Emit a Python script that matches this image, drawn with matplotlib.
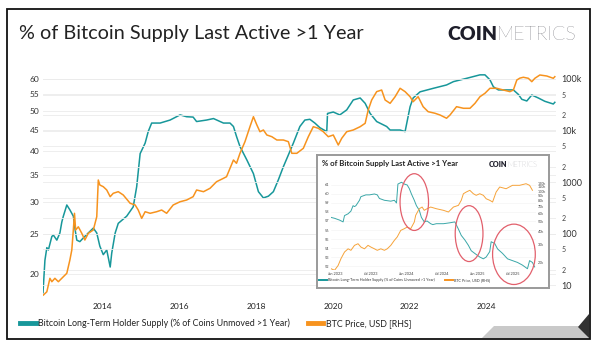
import matplotlib
matplotlib.use("Agg")
import matplotlib.pyplot as plt
from matplotlib.lines import Line2D
from matplotlib.patches import Ellipse, Polygon, Rectangle
from matplotlib.ticker import FixedLocator, FixedFormatter, NullLocator, NullFormatter

plt.rcParams["font.family"] = ["Lato", "DejaVu Sans"]

TEAL = "#17979a"
ORANGE = "#f7931e"
INK = "#222222"

# ---------------- main chart data ----------------
lth_years = [2012.45, 2012.50, 2012.55, 2012.59, 2012.68, 2012.72, 2012.81, 2012.89, 2012.94, 2012.98,
             2013.07, 2013.15, 2013.24, 2013.28, 2013.33, 2013.41, 2013.50, 2013.63, 2013.76, 2013.85,
             2013.93, 2014.02, 2014.11, 2014.20, 2014.24, 2014.33, 2014.41, 2014.63, 2014.80, 2014.89,
             2014.98, 2015.11, 2015.19, 2015.28, 2015.50, 2015.76, 2016.02, 2016.19, 2016.36, 2016.45,
             2016.71, 2016.89, 2017.15, 2017.32, 2017.41, 2017.49, 2017.58, 2017.76, 2017.93, 2018.06,
             2018.19, 2018.32, 2018.45, 2018.58, 2018.71, 2018.84, 2018.97, 2019.14, 2019.27, 2019.40,
             2019.53, 2019.66, 2019.84, 2019.86, 2020.01, 2020.18, 2020.36, 2020.53, 2020.71, 2020.84,
             2020.97, 2021.14, 2021.40, 2021.49, 2021.75, 2021.88, 2022.01, 2022.09, 2022.27, 2022.61,
             2022.96, 2023.14, 2023.48, 2023.83, 2023.96, 2024.09, 2024.18, 2024.31, 2024.70, 2024.83,
             2024.92, 2025.05, 2025.18, 2025.35, 2025.52, 2025.74, 2025.78]
lth_pct = [18.0, 21.6, 23.2, 22.9, 24.7, 24.9, 24.2, 25.2, 26.8, 27.7,
           29.5, 28.7, 27.7, 25.9, 24.2, 24.0, 24.5, 25.2, 25.9, 25.2,
           23.4, 22.3, 22.9, 20.8, 22.5, 25.2, 26.6, 27.7, 29.2, 32.7,
           39.4, 41.8, 44.6, 46.8, 46.8, 47.6, 49.0, 48.5, 48.4, 47.2,
           47.6, 48.0, 46.8, 46.8, 45.9, 43.4, 41.0, 38.0, 35.2, 31.8,
           30.7, 31.0, 31.8, 34.0, 36.6, 39.1, 41.8, 45.9, 47.6, 47.8,
           46.8, 45.6, 44.6, 49.4, 49.8, 49.0, 50.4, 53.3, 53.9, 52.3,
           49.4, 47.2, 45.9, 45.0, 45.0, 44.6, 51.3, 53.9, 55.8, 56.9,
           58.0, 59.1, 60.2, 61.4, 61.4, 59.7, 57.4, 56.4, 56.4, 55.0,
           53.5, 53.0, 54.8, 53.9, 52.9, 52.1, 52.6]

price_years = [2012.46, 2012.55, 2012.63, 2012.68, 2012.76, 2012.85, 2012.98, 2013.07, 2013.15, 2013.20,
               2013.24, 2013.27, 2013.30, 2013.37, 2013.46, 2013.54, 2013.63, 2013.76, 2013.85, 2013.89,
               2013.93, 2014.02, 2014.11, 2014.20, 2014.28, 2014.41, 2014.54, 2014.72, 2014.85, 2014.93,
               2015.02, 2015.11, 2015.24, 2015.41, 2015.54, 2015.67, 2015.84, 2016.02, 2016.19, 2016.36,
               2016.45, 2016.63, 2016.80, 2016.97, 2017.15, 2017.23, 2017.41, 2017.49, 2017.58, 2017.71,
               2017.84, 2017.93, 2018.02, 2018.10, 2018.19, 2018.28, 2018.41, 2018.54, 2018.71, 2018.84,
               2018.93, 2019.06, 2019.23, 2019.36, 2019.49, 2019.62, 2019.75, 2019.88, 2020.01, 2020.14,
               2020.23, 2020.36, 2020.53, 2020.71, 2020.84, 2020.92, 2021.01, 2021.14, 2021.27, 2021.36,
               2021.49, 2021.62, 2021.75, 2021.88, 2022.01, 2022.09, 2022.22, 2022.35, 2022.48, 2022.66,
               2022.79, 2022.96, 2023.05, 2023.22, 2023.40, 2023.57, 2023.70, 2023.83, 2023.96, 2024.09,
               2024.27, 2024.44, 2024.61, 2024.70, 2024.79, 2024.87, 2024.96, 2025.09, 2025.18, 2025.26,
               2025.39, 2025.57, 2025.74, 2025.78]
price_usd = [6.4, 7.4, 13.5, 11.6, 13.5, 11.6, 14.5, 16.9, 30.6, 47.8,
             117, 247, 117, 135, 101, 74.8, 101, 117, 212, 1094,
             875, 811, 700, 519, 604, 649, 560, 386, 358, 286,
             197, 265, 247, 265, 286, 247, 358, 414, 447, 519,
             700, 649, 755, 1014, 1180, 1268, 2673, 2307, 3607, 6070,
             11860, 18530, 12790, 9480, 10230, 8180, 7580, 6540, 6540, 6070,
             3607, 3607, 4510, 7580, 11860, 11040, 9480, 7580, 8180, 5230,
             7060, 9480, 10230, 11860, 13800, 25000, 39100, 56800, 61100, 39100,
             33700, 45300, 66000, 56800, 45300, 36200, 45300, 29000, 23200, 21600,
             20000, 17300, 20000, 29000, 27000, 27000, 33700, 45300, 52800, 66000,
             66000, 61100, 56800, 61100, 95600, 104000, 108000, 103200, 88700, 103200,
             119600, 114300, 103200, 110900]

year_ticks = [2014, 2016, 2018, 2020, 2022, 2024]
pct_ticks = [20, 25, 30, 35, 40, 45, 50, 55, 60]
price_major = [10, 100, 1000, 10000, 100000]
price_major_labels = ["10", "100", "1000", "10k", "100k"]
price_minor = [20, 50, 200, 500, 2000, 5000, 20000, 50000]
price_minor_labels = ["2", "5", "2", "5", "2", "5", "2", "5"]

# ---------------- inset chart data ----------------
in_lth_years = [2022.95, 2023.00, 2023.07, 2023.12, 2023.14, 2023.19, 2023.23, 2023.26, 2023.28, 2023.30,
                2023.35, 2023.37, 2023.44, 2023.49, 2023.56, 2023.60, 2023.63, 2023.70, 2023.79, 2023.84,
                2023.87, 2023.89, 2023.94, 2023.98, 2024.02, 2024.05, 2024.08, 2024.12, 2024.15, 2024.19,
                2024.22, 2024.26, 2024.30, 2024.35, 2024.38, 2024.43, 2024.53, 2024.62, 2024.69, 2024.74,
                2024.78, 2024.83, 2024.88, 2024.92, 2024.97, 2025.04, 2025.09, 2025.13, 2025.18, 2025.20,
                2025.25, 2025.29, 2025.36, 2025.43, 2025.50, 2025.57, 2025.64, 2025.71, 2025.74, 2025.78,
                2025.81]
in_lth_pct = [57.4, 57.3, 57.1, 56.9, 57.6, 57.8, 58.1, 58.7, 58.6, 58.7,
              59.3, 59.7, 59.9, 59.9, 60.0, 59.9, 59.5, 59.3, 59.2, 59.3,
              59.0, 61.1, 61.3, 61.1, 61.0, 60.6, 60.0, 59.3, 58.7, 58.2,
              57.4, 56.9, 57.0, 56.7, 56.6, 56.7, 56.7, 56.8, 56.9, 56.1,
              55.4, 54.9, 54.3, 53.7, 53.4, 53.0, 52.8, 53.0, 53.6, 54.7,
              54.5, 53.9, 53.4, 52.8, 52.6, 52.4, 52.1, 51.7, 52.6, 52.4,
              51.9]

in_price_years = [2022.95, 2023.00, 2023.05, 2023.09, 2023.14, 2023.19, 2023.23, 2023.28, 2023.33, 2023.37,
                  2023.42, 2023.47, 2023.51, 2023.56, 2023.60, 2023.65, 2023.70, 2023.74, 2023.79, 2023.84,
                  2023.88, 2023.93, 2023.98, 2024.02, 2024.07, 2024.12, 2024.14, 2024.19, 2024.23, 2024.26,
                  2024.30, 2024.35, 2024.43, 2024.53, 2024.60, 2024.67, 2024.74, 2024.78, 2024.81, 2024.85,
                  2024.90, 2024.95, 2024.99, 2025.04, 2025.09, 2025.13, 2025.18, 2025.22, 2025.27, 2025.32,
                  2025.41, 2025.50, 2025.60, 2025.69, 2025.74, 2025.78]
in_price_usd = [17200, 16600, 18500, 21600, 25100, 27000, 26100, 29200, 30300, 28100,
                27000, 29200, 28100, 27000, 26100, 27000, 26100, 27000, 29200, 32700,
                35300, 41000, 42600, 44200, 42600, 49500, 57700, 67000, 69600, 64600,
                67000, 69600, 67000, 64600, 62200, 69600, 72300, 81100, 94100, 97800,
                101700, 94100, 90800, 94100, 90800, 84000, 81100, 78000, 97800, 109600,
                105400, 113900, 113900, 118100, 113900, 101700]

in_pct_ticks = [52, 53, 54, 55, 56, 57, 58, 59, 60, 61]
in_price_ticks = [20000, 30000, 40000, 50000, 60000, 70000, 80000, 90000, 100000, 110000, 120000]
in_price_labels = ["20k", "30k", "40k", "50k", "60k", "70k", "80k", "90k", "100k", "110k", "120k"]
in_date_ticks = [2023.0, 2023.5, 2024.0, 2024.5, 2025.0, 2025.5]
in_date_labels = ["Jan 2023", "Jul 2023", "Jan 2024", "Jul 2024", "Jan 2025", "Jul 2025"]

# highlighted periods on the inset: (centre year, centre %, width in years, height in %)
highlights = [(2024.12, 59.1, 0.40, 6.3),
              (2024.89, 55.6, 0.39, 6.2),
              (2025.52, 53.3, 0.60, 6.7)]

LTH_LABEL = "Bitcoin Long-Term Holder Supply (% of Coins Unmoved >1 Year)"
PRICE_LABEL = "BTC Price, USD [RHS]"
TITLE = "% of Bitcoin Supply Last Active >1 Year"

W, H = 600, 349
fig = plt.figure(figsize=(W / 100, H / 100), dpi=100)


def fx(x):
    return x / W


def fy(y):
    return 1 - y / H


def box(x0, y0, x1, y1):
    return [fx(x0), fy(y1), (x1 - x0) / W, (y1 - y0) / H]


# outer frame
fig.add_artist(Rectangle((fx(7), fy(339)), (590 - 7) / W, (339 - 9) / H,
                         transform=fig.transFigure, fill=False, ec="#111111", lw=1.3))

# title and logo
fig.text(fx(19), fy(38.5), TITLE, fontsize=14.3, color=INK, va="baseline", ha="left")
fig.text(fx(497), fy(39.5), "COIN", fontsize=14, fontweight="heavy", color="#1e1e2a",
         va="baseline", ha="right")
fig.text(fx(497), fy(39.5), "METRICS", fontsize=14, fontweight="light", color="#2e2e38",
         va="baseline", ha="left")

# ---------------- main chart ----------------
ax = fig.add_axes(box(43, 70, 555.6, 298))
ax.set_yscale("log")
ax.set_xlim(2012.45, 2025.80)
ax.set_ylim(17.47, 63.1)
ax.plot(lth_years, lth_pct, color=TEAL, lw=1.1, zorder=3)
ax.set_xticks(year_ticks)
ax.set_xticklabels([str(y) for y in year_ticks])
ax.yaxis.set_major_locator(FixedLocator(pct_ticks))
ax.yaxis.set_major_formatter(FixedFormatter([str(v) for v in pct_ticks]))
ax.yaxis.set_minor_locator(NullLocator())
ax.yaxis.set_minor_formatter(NullFormatter())
ax.tick_params(axis="x", length=0, pad=3.5, labelsize=6, labelcolor=INK)
ax.tick_params(axis="y", length=0, pad=2.5, labelsize=6, labelcolor="#333333")
ax.grid(axis="y", color="#ebebeb", lw=0.6)
ax.set_axisbelow(True)

ax2 = ax.twinx()
ax2.set_yscale("log")
ax2.set_ylim(5.6, 149500)
ax2.plot(price_years, price_usd, color=ORANGE, lw=1.1, zorder=3)
ax2.yaxis.set_major_locator(FixedLocator(price_major))
ax2.yaxis.set_major_formatter(FixedFormatter(price_major_labels))
ax2.yaxis.set_minor_locator(FixedLocator(price_minor))
ax2.yaxis.set_minor_formatter(FixedFormatter(price_minor_labels))
ax2.tick_params(axis="y", which="major", length=0, pad=4, labelsize=6.5, labelcolor="#333333")
ax2.tick_params(axis="y", which="minor", length=0, pad=4, labelsize=5, labelcolor="#444444")
ax2.grid(axis="y", which="both", color="#ebebeb", lw=0.6)
ax2.set_axisbelow(True)

for a in (ax, ax2):
    for s in a.spines.values():
        s.set_visible(False)

fig.legend([Line2D([], [], color=TEAL, lw=3.5), Line2D([], [], color=ORANGE, lw=3.5)],
           [LTH_LABEL, PRICE_LABEL], loc="center left", bbox_to_anchor=(fx(20), fy(323)),
           ncol=2, frameon=False, fontsize=6.4, handlelength=1.75, handletextpad=0.3,
           columnspacing=2.0, borderpad=0, borderaxespad=0, labelcolor=INK)

# ---------------- inset chart ----------------
frame = fig.add_axes(box(317, 155, 549, 288), zorder=5)
frame.set_facecolor("white")
frame.set_xticks([])
frame.set_yticks([])
for s in frame.spines.values():
    s.set_color("#9a9a9a")
    s.set_linewidth(1.4)

fig.text(fx(322), fy(164), TITLE, fontsize=5.6, fontweight="bold", color=INK,
         va="center", ha="left", zorder=8)
fig.text(fx(507), fy(164.5), "COIN", fontsize=5.2, fontweight="heavy", color="#1e1e2a",
         va="center", ha="right", zorder=8)
fig.text(fx(507), fy(164.5), "METRICS", fontsize=5.2, fontweight="light", color="#666670",
         va="center", ha="left", zorder=8)

iax = fig.add_axes(box(331, 181, 536, 270), zorder=6)
iax.set_xlim(2022.95, 2025.83)
iax.set_ylim(51.56, 61.44)
iax.plot(in_lth_years, in_lth_pct, color="#3aa7a8", lw=0.7)
iax.set_xticks(in_date_ticks)
iax.set_xticklabels(in_date_labels)
iax.set_yticks(in_pct_ticks)
iax.set_yticklabels([str(v) for v in in_pct_ticks])
iax.tick_params(axis="both", length=0, labelsize=2.8, labelcolor="#444444", pad=1.5)
iax.grid(axis="y", color="#f2f2f2", lw=0.4)
iax.set_axisbelow(True)
iax.patch.set_alpha(0)

iax2 = iax.twinx()
iax2.set_zorder(7)
iax2.set_yscale("log")
iax2.set_ylim(16700, 125600)
iax2.plot(in_price_years, in_price_usd, color="#f6a33a", lw=0.7)
iax2.yaxis.set_major_locator(FixedLocator(in_price_ticks))
iax2.yaxis.set_major_formatter(FixedFormatter(in_price_labels))
iax2.yaxis.set_minor_locator(NullLocator())
iax2.yaxis.set_minor_formatter(NullFormatter())
iax2.tick_params(axis="y", length=0, labelsize=2.6, labelcolor="#444444", pad=1.5)

for a in (iax, iax2):
    for s in a.spines.values():
        s.set_visible(False)

for cx, cy, w, h in highlights:
    fig.add_artist(Ellipse((cx, cy), w, h, transform=iax.transData, fill=False,
                           ec="#e2606c", lw=0.9, zorder=9, clip_on=False))

iax.legend([Line2D([], [], color=TEAL, lw=1.4), Line2D([], [], color=ORANGE, lw=1.4)],
           [LTH_LABEL, PRICE_LABEL], loc="center left", bbox_to_anchor=(fx(319), fy(280)),
           bbox_transform=fig.transFigure, ncol=2, frameon=False, fontsize=2.7,
           handlelength=2.2, handletextpad=0.3, columnspacing=2.5, borderpad=0,
           borderaxespad=0, labelcolor="#333333")

# page-curl corner
fig.add_artist(Polygon([(fx(482), fy(338)), (fx(494), fy(326)), (fx(580), fy(326)), (fx(589), fy(338))],
                       closed=True, transform=fig.transFigure, fc="#c9c9c9", ec="none", zorder=1))
fig.add_artist(Polygon([(fx(578), fy(327)), (fx(589), fy(314)), (fx(589), fy(338))],
                       closed=True, transform=fig.transFigure, fc="#333333", ec="none", zorder=1))

fig.savefig("out.png", dpi=100)
